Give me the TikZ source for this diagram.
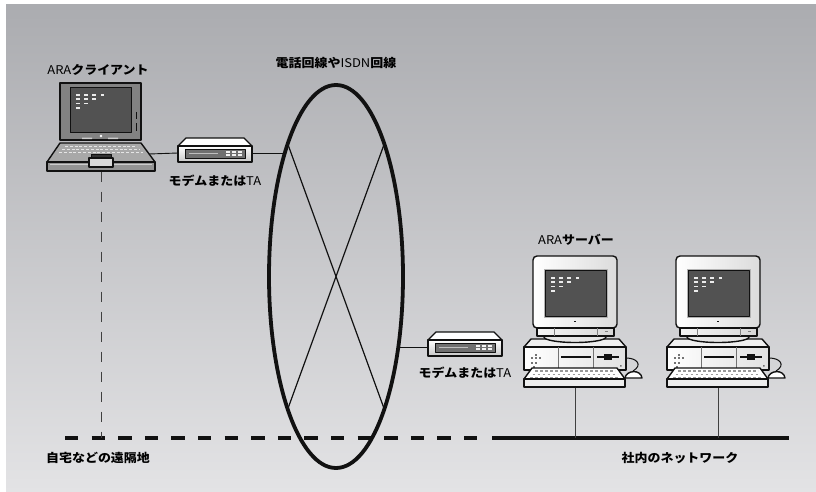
\documentclass[tikz,border=0pt]{standalone}
\usepackage{fontspec}
\newfontfamily\jp{Noto Sans CJK JP}[FakeStretch=1.08]
\usetikzlibrary{shapes.geometric}
\definecolor{bgtop}{HTML}{ABACB0}
\definecolor{bgbot}{HTML}{E3E3E5}
\definecolor{ink}{HTML}{111111}
\definecolor{lidgray}{HTML}{828282}
\definecolor{screengray}{HTML}{525252}
\definecolor{basegray}{HTML}{A8A8A8}
\definecolor{panelgray}{HTML}{707070}
\tikzset{
  every picture/.style={line cap=butt, line join=round},
  outl/.style={draw=ink, line width=1.4pt},
  lbl/.style={font=\jp\bfseries\fontsize{12}{14}\selectfont, inner sep=1pt},
  wan/.style={ellipse, draw=ink, line width=3.8pt, minimum width=134pt,
              minimum height=383pt, inner sep=0pt, outer sep=0pt},
  cross/.style={ink, line width=1.2pt},
  link/.style={ink, line width=0.9pt},
  drop/.style={black!75, line width=1pt},
  homenet/.style={ink, line width=4.7pt, dash pattern=on 13.4pt off 13.2pt},
  lannet/.style={ink, line width=4.7pt},
  % little text lines on a screen
  scrtext/.pic={
    \foreach \r/\n in {0/3,1/2,2/1,3/0}
      \foreach \c in {0,...,\n}
        \fill[white!85!gray] ({\c*8.2},{\r*4.4}) rectangle ++(3.6,1.6);
  },
  % notebook computer
  laptop/.pic={
    \draw[outl, fill=lidgray] (-41,-44) rectangle (40,13);
    \draw[ink, line width=2.2pt] (-19,-44) -- (8,-44);
    \draw[ink, line width=1pt, fill=screengray] (-31,-39) rectangle (30,6);
    \pic at (-25,-33) {scrtext};
    \fill[black!20] (-19,10.5) rectangle (-9,12) (7,10.5) rectangle (17,12);
    \fill[white] (0,9) circle (1.3);
    \draw[ink, line width=1pt] (35,-15) -- (35,-8) (35,-4) -- (35,4);
    % base and keys
    \draw[outl, fill=basegray] (-41,16) -- (40,16) -- (54,35) -- (-54,35) -- cycle;
    \foreach \r in {0,1,2}
      \draw[white!80!gray, line width=1.5pt, dash pattern=on 3pt off 1.8pt]
        ({-36-3*\r},{19.5+3*\r}) -- ({36+3*\r},{19.5+3*\r});
    \draw[outl, fill=black!42] (-54,35) rectangle (54,44);
    \draw[black!20, line width=1pt] (-51,37.5) -- (51,37.5);
    \draw[ink, line width=1pt, fill=black!80] (-10,27) rectangle (10,31);
    \draw[outl, fill=black!15] (-12,31) rectangle (12,40);
    \coordinate (-port) at (48,27);
    \coordinate (-foot) at (0,44.7);
  },
  % modem / terminal adapter
  modem/.pic={
    \draw[outl, fill=white] (-29,-12) -- (29,-12) -- (37,-4) -- (-37,-4) -- cycle;
    \draw[outl, top color=white, bottom color=black!22] (-37,-4) rectangle (37,12);
    \draw[ink, line width=1pt, fill=panelgray] (-30,-1) rectangle (30,8);
    \draw[black!25, line width=1.4pt] (-26,3.5) -- (3,3.5);
    \foreach \i in {0,1,2}
      \foreach \j in {0,1}
        \fill[white!90!gray] ({11+6*\i},{0.6+3.6*\j}) rectangle ++(4,2);
    \coordinate (-w) at (-37,3);
    \coordinate (-e) at (37,3);
  },
  % desktop machine with monitor, keyboard and mouse
  server/.pic={
    \draw[ink, line width=1pt] (51,58) .. controls (62,58) and (68,65) .. (58,71);
    \draw[outl, fill=white] (50,78) .. controls (51,70) and (66,69) .. (67,78) -- cycle;
    % cpu box
    \draw[outl, fill=black!6] (-44,39) -- (44,39) -- (51,47) -- (-51,47) -- cycle;
    \draw[outl, left color=white, right color=black!12] (-51,47) rectangle (51,70);
    \draw[black!55, line width=0.8pt] (-17,47) -- (-17,70) (18,47) -- (18,70);
    \draw[ink, line width=1.2pt] (-14,57) -- (16,57) (22,57) -- (44,57);
    \fill[ink] (29,54) rectangle (37,60);
    \foreach \x/\y in {-44/57,-40/57,-36/57,-44/62,-40/62,-42/66}
      \fill[black!55] (\x,\y) rectangle ++(1.8,1.8);
    \fill[black!55] (-40,54) rectangle ++(1.8,1.8) (45,65) rectangle ++(1.6,1.6);
    % stand
    \draw[outl, fill=black!10] (0,37) ellipse (31 and 5.5);
    % monitor
    \draw[outl, left color=white, right color=black!14, rounded corners=4pt]
      (-42,-44) rectangle (42,28);
    \draw[outl, left color=black!4, right color=black!16] (-38,28) rectangle (39,36);
    \draw[black!50, line width=0.7pt] (-21,28) -- (-21,36) (22,28) -- (22,36);
    \fill[black!50] (30,31) rectangle ++(3,1.4);
    \draw[black!30, line width=1pt] (-31,-31) rectangle (32,17);
    \draw[ink, line width=1pt, fill=screengray] (-30,-30) rectangle (31,16);
    \pic at (-24,-23) {scrtext};
    \fill[ink] (-1,20.5) rectangle ++(2.4,1.6);
    % keyboard
    \draw[outl, fill=white] (-43,68) -- (42,68) -- (50,79) -- (-51,79) -- cycle;
    \foreach \r in {0,1,2}
      \draw[black!40, line width=1.3pt, dash pattern=on 2.6pt off 2.4pt]
        ({-40-2.5*\r},{71+3.2*\r}) -- ({40+2.5*\r},{71+3.2*\r});
    \draw[outl, fill=black!7] (-51,79) rectangle (50,87);
    \coordinate (-foot) at (0,87.7);
  },
}
\newcommand\lat[1]{{\mdseries #1}}

\begin{document}
\begin{tikzpicture}[x=1pt, y=-1pt]
  \useasboundingbox (0,0) rectangle (816,492);
  \shade[top color=bgtop, bottom color=bgbot] (6,5) rectangle (816,492);
  % network lines
  \coordinate (homeL) at (65,438);
  \coordinate (homeR) at (480,438);
  \coordinate (lanL) at (492,438);
  \coordinate (lanR) at (789,438);
  \draw[homenet] (homeL) -- (homeR);
  \draw[lannet] (lanL) -- (lanR);
  % machines
  \pic (client) at (101,127) {laptop};
  \pic (modemA) at (215,150) {modem};
  \pic (modemB) at (465,344) {modem};
  \pic (srvA) at (575,300) {server};
  \pic (srvB) at (718,300) {server};
  % phone / ISDN line
  \node[wan] (wan) at (336,276.5) {};
  \draw[cross] (wan.110) -- (wan.290);
  \draw[cross] (wan.70) -- (wan.250);
  % links
  \draw[link] (client-port) -- (modemA-w);
  \draw[link] (modemA-e) -- (modemA-e -| wan.113);
  \draw[link] (modemB-w -| wan.-49) -- (modemB-w);
  \draw[drop, dash pattern=on 10pt off 10pt] (client-foot) -- (client-foot |- homeL);
  \draw[drop] (srvA-foot) -- (srvA-foot |- lanL);
  \draw[drop] (srvB-foot) -- (srvB-foot |- lanL);
  % labels
  \node[lbl] (clientlbl) at (98,70) {\lat{ARA}クライアント};
  \node[lbl] (wanlbl) at (336,63) {電話回線や\lat{ISDN}回線};
  \node[lbl] (modemAlbl) at (215,181) {モデムまたは\lat{TA}};
  \node[lbl] (modemBlbl) at (465,373) {モデムまたは\lat{TA}};
  \node[lbl] (srvlbl) at (576,240) {\lat{ARA}サーバー};
  \node[lbl] (homelbl) at (98,458) {自宅などの遠隔地};
  \node[lbl] (lanlbl) at (680,458) {社内のネットワーク};
\end{tikzpicture}
\end{document}
